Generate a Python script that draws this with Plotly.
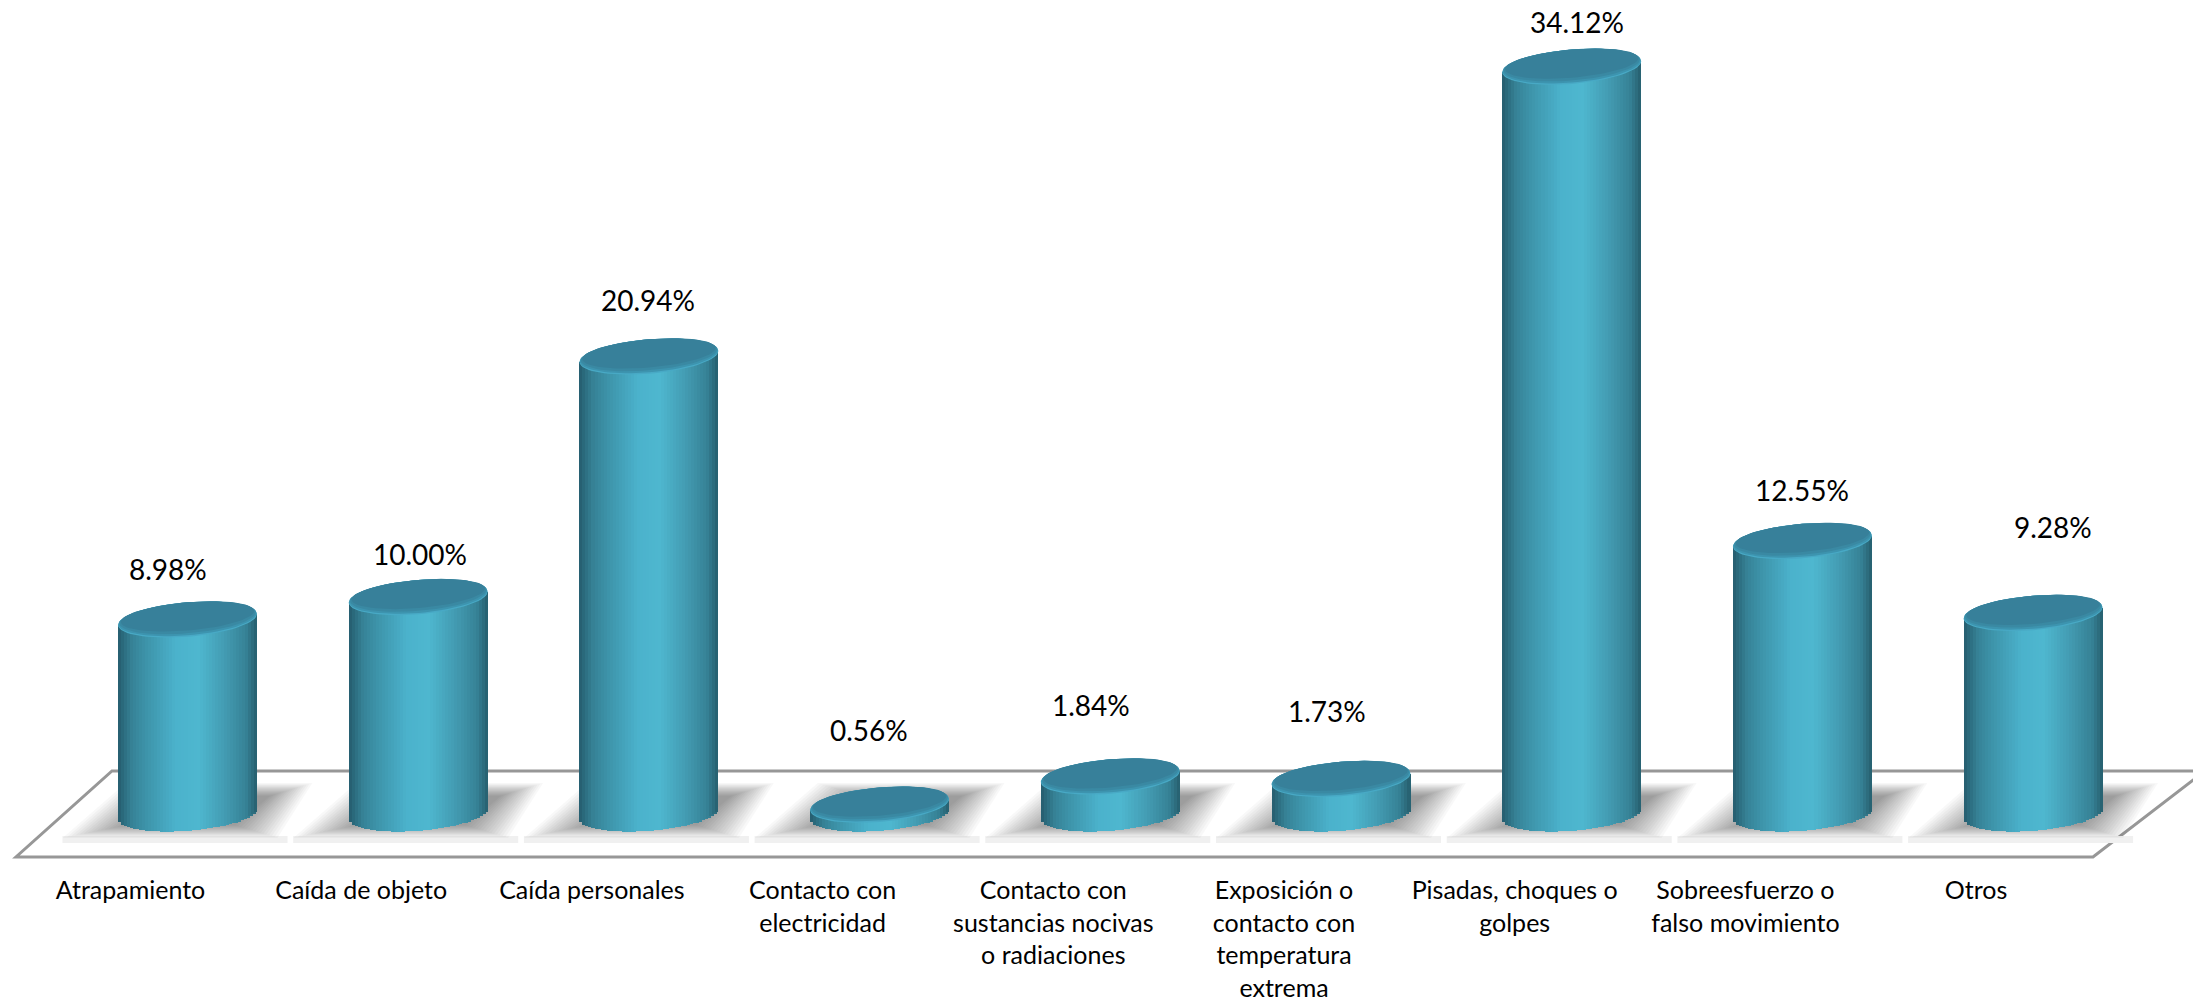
import numpy as np
import plotly.graph_objects as go

categories = ["Atrapamiento", "Caída de objeto", "Caída personales", "Contacto con<br>electricidad",
              "Contacto con<br>sustancias nocivas<br>o radiaciones",
              "Exposición o<br>contacto con<br>temperatura<br>extrema",
              "Pisadas, choques o<br>golpes", "Sobreesfuerzo o<br>falso movimiento", "Otros"]
values = [8.98, 10.00, 20.94, 0.56, 1.84, 1.73, 34.12, 12.55, 9.28]
value_labels = ["8.98%", "10.00%", "20.94%", "0.56%", "1.84%", "1.73%", "34.12%", "12.55%", "9.28%"]
label_dx = [-20, 2, -1, -11, -19, -14, 5, 0, 20]
label_dy = [51, 43, 57, 75, 72, 68, 45, 51, 86]

W, H = 2193, 1000
PX_X0, PX_PITCH = 187.5, 230.7
PX_Y0, PX_UNIT = 817.0, 21.99
PLOT_BOTTOM = 867
A, B, S = 69.5, 17.2, 5.5   # ellipse half width, half height, shear (px)
BASE_LIFT = 3.5


def dx(px):
    return px / PX_PITCH


def dy(px):
    return px / PX_UNIT


def X(px):
    return (px - PX_X0) / PX_PITCH


def Y(px):
    return (PX_Y0 - px) / PX_UNIT


x_range = [X(0), X(W)]
y_range = [Y(PLOT_BOTTOM), Y(0)]

stops = [(0.0, (38, 92, 110)), (0.03, (42, 104, 122)), (0.10, (54, 130, 150)), (0.22, (62, 150, 172)),
         (0.42, (75, 178, 204)), (0.58, (78, 183, 207)), (0.78, (66, 153, 176)), (0.92, (54, 130, 150)),
         (1.0, (38, 94, 110))]


def side_color(t):
    ts = [s[0] for s in stops]
    rgb = [np.interp(t, ts, [s[1][c] for s in stops]) for c in range(3)]
    return "rgb(%d,%d,%d)" % tuple(int(round(c)) for c in rgb)


fig = go.Figure()
n_strip = 46
strip_px = 2 * A / n_strip
idx = list(range(len(values)))
for k in range(n_strip):
    mid = -A + (k + 0.5) * strip_px
    u = mid / A
    lower_px = BASE_LIFT + S * u - B * np.sqrt(max(0.0, 1 - u * u))
    base = dy(lower_px)
    fig.add_trace(go.Bar(
        x=idx, y=[v + dy(S * u) - base for v in values], base=base,
        offset=dx(-A + k * strip_px), width=dx(strip_px * (1.6 if k < n_strip - 1 else 1.0)),
        marker=dict(color=side_color((k + 0.5) / n_strip), line=dict(width=0)),
        hoverinfo="skip", showlegend=False))

layers = [(1.0, 1.0, "#48a9c5"), (0.995, 0.96, "#3d94af"), (0.98, 0.90, "#3a89a3"), (0.96, 0.82, "#37809a")]
t = np.linspace(0, 2 * np.pi, 73)
for sx, sy, col in layers:
    xs, ys = [], []
    for i, v in zip(idx, values):
        shift = B * (1 - sy)
        xs += list(i + dx(A * sx * np.cos(t))) + [None]
        ys += list(v + dy(B * sy * np.sin(t) + S * np.cos(t) + shift)) + [None]
    fig.add_trace(go.Scatter(x=xs, y=ys, mode="lines", fill="toself", fillcolor=col,
                             line=dict(width=0, color=col), hoverinfo="skip", showlegend=False))

shapes = []
# floor
floor = [(16, 857), (2093, 857), (2205, 771), (112, 771)]
shapes.append(dict(type="path", xref="x", yref="y", layer="below",
                   path="M " + " L ".join(f"{X(a):.4f},{Y(b):.4f}" for a, b in floor) + " Z",
                   line=dict(color="#979797", width=3), fillcolor="white"))
# soft shadows
for i in idx:
    c = PX_X0 + PX_PITCH * i
    shapes.append(dict(type="rect", xref="x", yref="y", layer="below",
                       x0=X(c - 125), x1=X(c + 100), y0=Y(843), y1=Y(836),
                       fillcolor="#f0f0f0", line=dict(width=0)))
    for n in range(16):
        ins = n * 2.8
        vi = n * 0.85
        pts = [(c - 125 + ins * 1.5, 838 - vi), (c + 90 - ins, 838 - vi),
               (c + 125 - ins, 783 + vi), (c - 62 + ins, 783 + vi)]
        shapes.append(dict(type="path", xref="x", yref="y", layer="below",
                           path="M " + " L ".join(f"{X(a):.4f},{Y(b):.4f}" for a, b in pts) + " Z",
                           fillcolor="rgba(0,0,0,0.028)", line=dict(width=0)))

annotations = [dict(x=i, y=v, xref="x", yref="y", text=s, showarrow=False, xshift=a, yshift=b,
                    font=dict(family="Lato", size=28, color="black"))
               for i, v, s, a, b in zip(idx, values, value_labels, label_dx, label_dy)]

fig.update_layout(
    width=W, height=H, autosize=False, barmode="overlay", bargap=0,
    margin=dict(l=0, r=0, t=0, b=H - PLOT_BOTTOM, pad=0),
    paper_bgcolor="white", plot_bgcolor="white", showlegend=False,
    shapes=shapes, annotations=annotations,
    xaxis=dict(range=x_range, tickmode="array", tickvals=[i - dx(57) for i in idx], ticktext=categories,
               showgrid=False, zeroline=False, showline=False, ticks="outside", ticklen=1,
               tickcolor="rgba(0,0,0,0)", tickangle=0,
               tickfont=dict(family="Lato", size=25, color="black"), automargin=False),
    yaxis=dict(range=y_range, visible=False, showgrid=False, zeroline=False),
)
fig.write_html("out.html", post_script="document.body.style.margin='0';",
               config={"displayModeBar": False})
